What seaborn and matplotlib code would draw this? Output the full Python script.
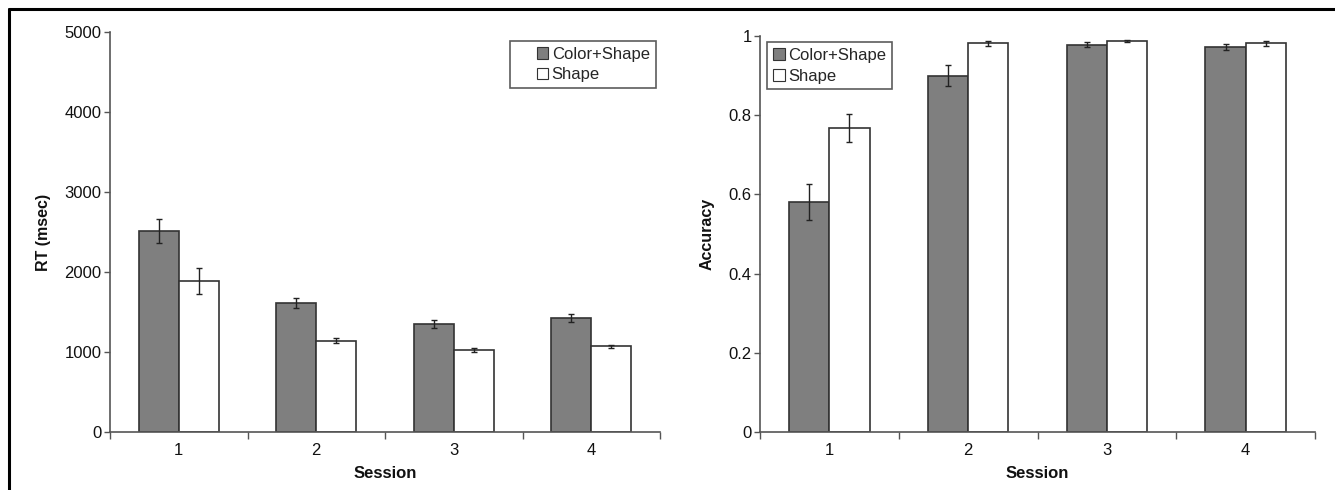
import matplotlib
matplotlib.use("Agg")
import matplotlib.pyplot as plt
import seaborn as sns
import pandas as pd
import numpy as np
from matplotlib.lines import Line2D
from matplotlib.patches import Rectangle
from matplotlib.legend_handler import HandlerPatch

sessions = ["1", "2", "3", "4"]
conditions = ["Color+Shape", "Shape"]
rt_cs = [2510, 1610, 1350, 1425]
rt_cs_err = [150, 60, 45, 55]
rt_sh = [1885, 1140, 1030, 1070]
rt_sh_err = [165, 30, 25, 15]
acc_cs = [0.580, 0.900, 0.978, 0.972]
acc_cs_err = [0.045, 0.026, 0.006, 0.008]
acc_sh = [0.768, 0.982, 0.988, 0.982]
acc_sh_err = [0.036, 0.006, 0.003, 0.006]

sns.set_theme(style="white")
plt.rcParams['font.family'] = ['Liberation Sans', 'DejaVu Sans']

fig = plt.figure(figsize=(13.35, 4.9), dpi=100)
ax1 = fig.add_axes([110/1335, 58/490, 550/1335, 400/490])
ax2 = fig.add_axes([760/1335, 58/490, 555/1335, 396/490])

palette = {"Color+Shape": "#7f7f7f", "Shape": "#ffffff"}


def right_square(legend, orig_handle, xdescent, ydescent, width, height, fontsize):
    s = height
    return Rectangle((width - s - xdescent, -ydescent), s, s)


def draw(ax, cs, cs_err, sh, sh_err, ylim, yticks, yticklabels, ylabel, legend_loc,
         legend_anchor, pad_left):
    df = pd.DataFrame({
        "Session": sessions * 2,
        "Condition": [conditions[0]] * 4 + [conditions[1]] * 4,
        "Value": list(cs) + list(sh),
    })
    errs = list(cs_err) + list(sh_err)
    sns.barplot(data=df, x="Session", y="Value", hue="Condition", hue_order=conditions,
                order=sessions, palette=palette, edgecolor="#333333", linewidth=1.2,
                width=0.58, errorbar=None, ax=ax, zorder=2)
    patches = [p for p in ax.patches if p.get_height() > 0][:8]
    for p, e in zip(patches, errs):
        xc = p.get_x() + p.get_width() / 2
        ax.errorbar(xc, p.get_height(), yerr=e, fmt="none", ecolor="#222222",
                    elinewidth=1.0, capsize=2.5, capthick=1.0, zorder=3)
    ax.set_xlim(-0.5, 3.5)
    ax.set_ylim(*ylim)
    ax.set_yticks(yticks)
    ax.set_yticklabels(yticklabels)
    ax.set_xticks(range(4))
    ax.set_xticklabels(sessions)
    ax.set_xticks([-0.5, 0.5, 1.5, 2.5, 3.5], minor=True)
    ax.tick_params(axis="x", which="major", length=0, labelsize=12, pad=8, colors="#111111")
    ax.tick_params(axis="x", which="minor", length=5, width=1, color="#555555", direction="out", bottom=True)
    ax.tick_params(axis="y", which="major", length=4, width=1, color="#555555", direction="out",
                   left=True, labelsize=12, pad=2, labelcolor="#111111")
    for s in ["top", "right"]:
        ax.spines[s].set_visible(False)
    for s in ["left", "bottom"]:
        ax.spines[s].set_color("#555555")
        ax.spines[s].set_linewidth(1.2)
    ax.set_xlabel("Session", fontsize=12, fontweight="bold", labelpad=6, color="#111111")
    ax.set_ylabel(ylabel, fontsize=11.5, fontweight="bold", labelpad=10, color="#111111")
    handles, labels = ax.get_legend_handles_labels()
    kw = {}
    hl = 0.7
    if pad_left:
        kw["handler_map"] = {type(handles[0]): HandlerPatch(patch_func=right_square)}
        hl = 1.95
    leg = ax.legend(handles, labels, loc=legend_loc, bbox_to_anchor=legend_anchor, frameon=True,
                    fancybox=False, fontsize=12, handlelength=hl, handleheight=0.7,
                    handletextpad=0.2, borderpad=0.35, labelspacing=0.35,
                    edgecolor="#333333", borderaxespad=0, **kw)
    leg.get_frame().set_linewidth(1.2)
    for h in leg.legend_handles:
        h.set_edgecolor("#333333")
        h.set_linewidth(0.8)


draw(ax1, rt_cs, rt_cs_err, rt_sh, rt_sh_err, (0, 5000), [0, 1000, 2000, 3000, 4000, 5000],
     ["0", "1000", "2000", "3000", "4000", "5000"], "RT (msec)", "upper right", (0.992, 0.978), True)
draw(ax2, acc_cs, acc_cs_err, acc_sh, acc_sh_err, (0, 1), [0, 0.2, 0.4, 0.6, 0.8, 1.0],
     ["0", "0.2", "0.4", "0.6", "0.8", "1"], "Accuracy", "upper left", (0.013, 0.985), False)

# figure frame lines (top and left)
fig.add_artist(Line2D([9/1335, 1.0], [1 - 9/490, 1 - 9/490], transform=fig.transFigure,
                      color="black", linewidth=2.2))
fig.add_artist(Line2D([9/1335, 9/1335], [0, 1 - 9/490], transform=fig.transFigure,
                      color="black", linewidth=2.2))

fig.savefig("out.png", dpi=100)
